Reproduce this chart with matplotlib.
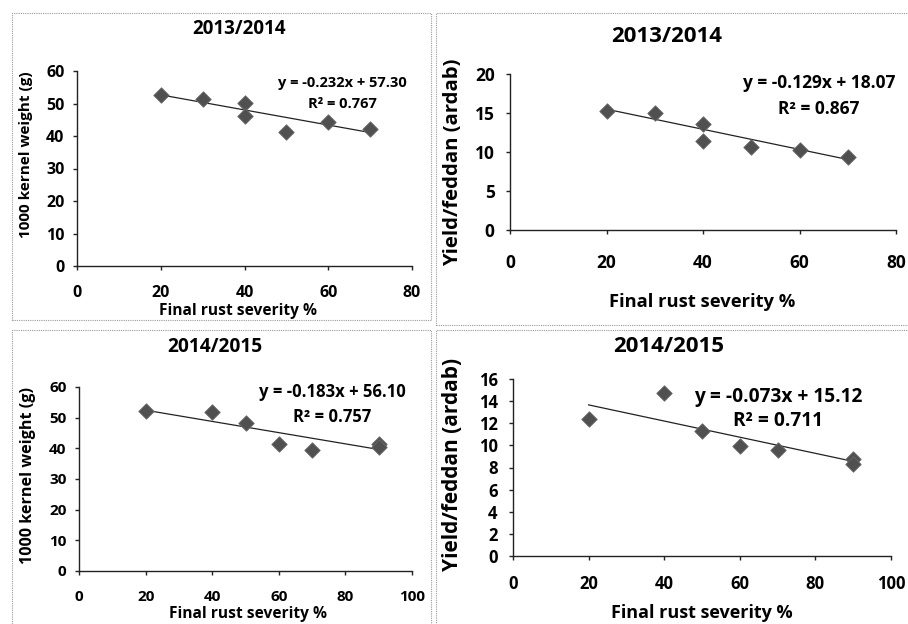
import matplotlib.pyplot as plt
from matplotlib.patches import Rectangle

plt.rcParams['font.family'] = ['Open Sans', 'DejaVu Sans']
plt.rcParams['font.weight'] = 'bold'

W, H = 908, 624

# data
sev_a = [20, 30, 40, 40, 50, 60, 70]
kw_a = [52.5, 51.3, 50.3, 46.3, 41.3, 44.3, 42.1]
yld_a = [15.3, 15.0, 13.6, 11.4, 10.6, 10.3, 9.3]

sev_b = [20, 40, 50, 60, 70, 90, 90]
kw_b = [52.2, 51.8, 48.1, 41.4, 39.6, 41.5, 40.4]
yld_b = [12.35, 14.7, 11.3, 9.95, 9.55, 8.75, 8.3]

fits = [(-0.232, 57.30, 0.767), (-0.129, 18.07, 0.867),
        (-0.183, 56.10, 0.757), (-0.073, 15.12, 0.711)]
seasons = ['2013/2014', '2013/2014', '2014/2015', '2014/2015']
ylabels = ['1000 kernel weight (g)', 'Yield/feddan (ardab)',
           '1000 kernel weight (g)', 'Yield/feddan (ardab)']
xlabel = 'Final rust severity %'

fig = plt.figure(figsize=(W / 100, H / 100), dpi=100)


def px(x, y):
    return x / W, 1 - y / H


def box(x0, y0, x1, y1):
    fig.patches.append(Rectangle(px(x0, y1), (x1 - x0) / W, (y1 - y0) / H,
                                 transform=fig.transFigure, fill=False,
                                 ec='#9a9a9a', lw=0.8, ls=(0, (1, 1))))


box(12, 13, 431, 320)
box(436, 13, 912, 325)
box(12, 330, 431, 630)
box(436, 330, 912, 630)

# axes placement in pixels: left, right, top, bottom
layout = [(77, 412, 71, 266), (510, 896, 74, 230),
          (79, 412, 387, 571), (513, 891, 379, 556)]
xs = [sev_a, sev_a, sev_b, sev_b]
ys = [kw_a, yld_a, kw_b, yld_b]
xlims = [(0, 80), (0, 80), (0, 100), (0, 100)]
ylims = [(0, 60), (0, 20), (0, 60), (0, 16)]
ystep = [10, 5, 10, 2]
tick_fs = [11.5, 12.5, 11, 12]
xpad = [11, 14, 11, 11]
ypad = [6, 8, 6, 8]

for i in range(4):
    l, r, t, b = layout[i]
    ax = fig.add_axes([l / W, 1 - b / H, (r - l) / W, (b - t) / H])
    ax.set_facecolor('none')
    x, y = xs[i], ys[i]
    m, c, r2 = fits[i]
    x0, x1 = min(x), max(x)
    ax.plot([x0, x1], [m * x0 + c, m * x1 + c], color='#222222', lw=0.9)
    ax.scatter(x, y, marker='D', s=62, color='#505050', zorder=3,
               edgecolors='#6a6a6a', linewidths=0.6)
    ax.set_xlim(*xlims[i])
    ax.set_ylim(*ylims[i])
    ax.set_xticks(range(xlims[i][0], xlims[i][1] + 1, 20))
    ax.set_yticks(range(ylims[i][0], ylims[i][1] + 1, ystep[i]))
    for s in ['top', 'right']:
        ax.spines[s].set_visible(False)
    for s in ['left', 'bottom']:
        ax.spines[s].set_color('#222222')
        ax.spines[s].set_linewidth(1.0)
    ax.tick_params(direction='out', length=3, width=1.0, color='#222222',
                   labelsize=tick_fs[i])
    ax.tick_params(axis='x', pad=xpad[i])
    ax.tick_params(axis='y', pad=ypad[i])
    for lab in ax.get_xticklabels() + ax.get_yticklabels():
        lab.set_fontweight('bold')

# titles
title_pos = [(239, 29, 13.5), (667, 37, 16), (215, 347, 13.8), (669, 347, 16)]
for i, (tx, ty, fs) in enumerate(title_pos):
    fig.text(*px(tx, ty), seasons[i], ha='center', va='center',
             fontsize=fs, fontweight='bold')

# x labels
xl_pos = [(238, 311, 11.2), (702, 302, 13.2), (248, 614, 11.2), (702, 613, 13)]
for tx, ty, fs in xl_pos:
    fig.text(*px(tx, ty), xlabel, ha='center', va='center',
             fontsize=fs, fontweight='bold')

# y labels
yl_pos = [(26, 155, 11), (453, 162, 14.6), (28, 475, 11.6), (452, 464, 15)]
for i, (tx, ty, fs) in enumerate(yl_pos):
    fig.text(*px(tx, ty), ylabels[i], ha='center', va='center',
             rotation=90, fontsize=fs, fontweight='bold')

# regression equations
eq_pos = [(342, 83, 104, 10.5), (819, 83, 109, 12.5),
          (332, 392, 417, 12), (778, 397, 421, 13.8)]
for i, (tx, ty1, ty2, fs) in enumerate(eq_pos):
    m, c, r2 = fits[i]
    fig.text(*px(tx, ty1), f'y = {m:.3f}x + {c:.2f}', ha='center',
             va='center', fontsize=fs, fontweight='bold')
    fig.text(*px(tx, ty2), f'R² = {r2:.3f}', ha='center',
             va='center', fontsize=fs, fontweight='bold')

fig.savefig('out.png', dpi=100, facecolor='white')
